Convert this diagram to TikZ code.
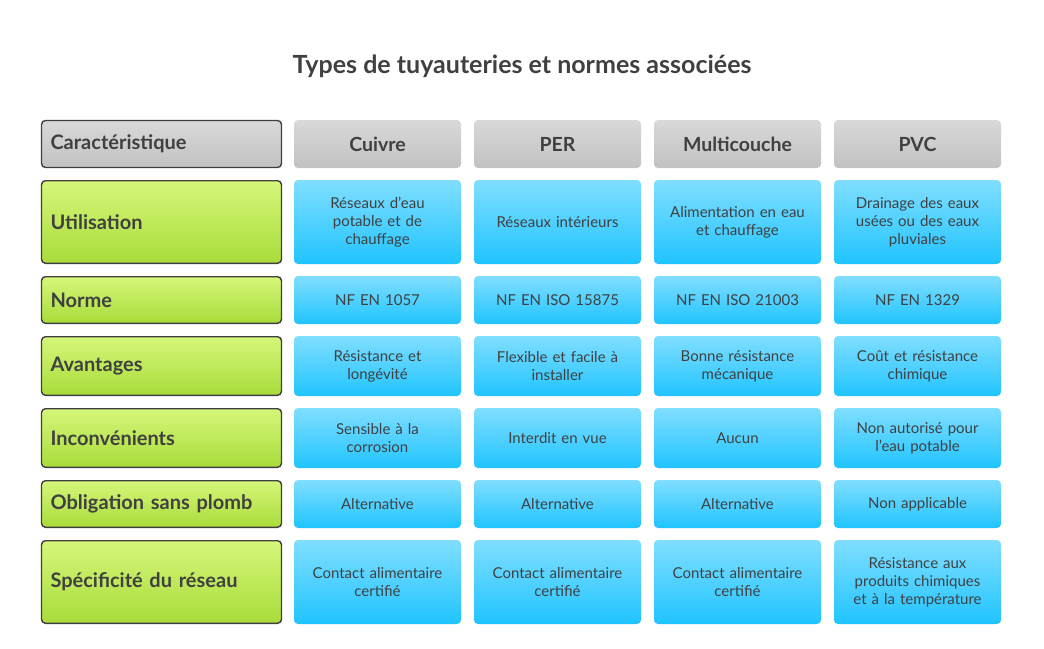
\documentclass[tikz,border=0pt]{standalone}
\usepackage{fontspec}
\setmainfont{Lato}
\definecolor{txt}{HTML}{404040}
\definecolor{edge}{HTML}{3F3F3F}
\begin{document}
\begin{tikzpicture}
[x=1pt,y=-1pt,
  hdrBox/.style={rounded corners=4pt,top color=gray!30,bottom color=gray!48,
    minimum width=167pt,minimum height=48pt,text=txt,font=\bfseries\fontsize{19.5}{22}\selectfont},%
  lblBox/.style={rounded corners=4pt,draw=edge,line width=1.4pt,
    top color={rgb,255:red,214;green,246;blue,122},bottom color={rgb,255:red,168;green,220;blue,58},
    minimum width=240pt,text width=222pt,align=left,text=txt,font=\bfseries\fontsize{20}{22}\selectfont},%
  cellBox/.style={rounded corners=4pt,
    top color={rgb,255:red,128;green,222;blue,255},bottom color={rgb,255:red,32;green,196;blue,255},
    minimum width=167pt,text width=160pt,align=center,text=txt,font=\fontsize{15}{18}\selectfont}]
\useasboundingbox (0,0) rectangle (1044,648);
\node (title) at (522,66) [text=txt,font=\bfseries\fontsize{25}{28}\selectfont] {Types de tuyauteries et normes associées};
%% header row
\node (h0) at (161.5,144) [lblBox,top color=gray!30,bottom color=gray!48,minimum height=47pt] {Caractéristique};
\foreach \name/\x/\label in {h1/377.5/Cuivre, h2/557.5/PER, h3/737.5/Multicouche, h4/917.5/PVC}
{
  \node (\name) at (\x,144) [hdrBox] {\label};
};
%% body rows
\foreach \r/\y/\h/\lbl/\ca/\cb/\cc/\cd in {
  1/222/84/Utilisation/{Réseaux d'eau\\potable et de\\chauffage}/{Réseaux intérieurs}/{Alimentation en eau\\et chauffage}/{Drainage des eaux\\usées ou des eaux\\pluviales},
  2/300/48/Norme/{NF EN 1057}/{NF EN ISO 15875}/{NF EN ISO 21003}/{NF EN 1329},
  3/366/60/Avantages/{Résistance et\\longévité}/{Flexible et facile à\\installer}/{Bonne résistance\\mécanique}/{Coût et résistance\\chimique},
  4/438/60/Inconvénients/{Sensible à la\\corrosion}/{Interdit en vue}/{Aucun}/{Non autorisé pour\\l'eau potable},
  5/504/48/{Obligation sans plomb}/{Alternative}/{Alternative}/{Alternative}/{Non applicable},
  6/582/84/{Spécificité du réseau}/{Contact alimentaire\\certifié}/{Contact alimentaire\\certifié}/{Contact alimentaire\\certifié}/{Résistance aux\\produits chimiques\\et à la température}}
{
  \node (r\r c0) at (161.5,\y) [lblBox,minimum height=\h pt-1.4pt] {\lbl};
  \node (r\r c1) at (377.5,\y) [cellBox,minimum height=\h pt] {\ca};
  \node (r\r c2) at (557.5,\y) [cellBox,minimum height=\h pt] {\cb};
  \node (r\r c3) at (737.5,\y) [cellBox,minimum height=\h pt] {\cc};
  \node (r\r c4) at (917.5,\y) [cellBox,minimum height=\h pt] {\cd};
};
\end{tikzpicture}
\end{document}
